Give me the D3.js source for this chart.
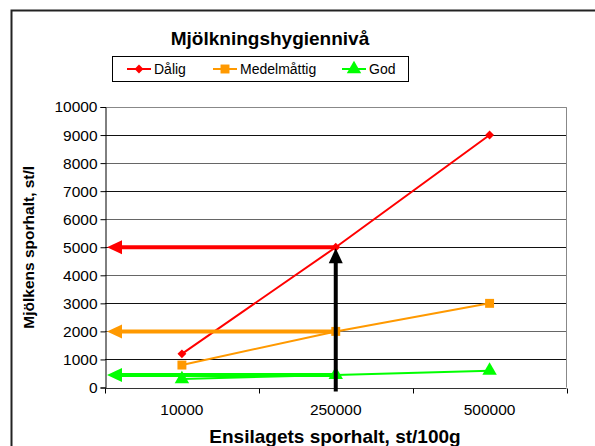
<!DOCTYPE html>
<html>
<head>
<meta charset="utf-8">
<script src="https://cdn.jsdelivr.net/npm/d3@7"></script>
<style>
  body { margin: 0; background: #fff; }
  svg { font-family: "Liberation Sans", Arial, sans-serif; }
</style>
</head>
<body>
<div id="chart"></div>
<script>
// Data___________________________________________
const categories = ["10000", "250000", "500000"];
const seriesNames = ["Dålig", "Medelmåttig", "God"];
const dalig = [1200, 5000, 9000];
const medel = [800, 2000, 3000];
const god = [300, 450, 600];
const yTicks = [0, 1000, 2000, 3000, 4000, 5000, 6000, 7000, 8000, 9000, 10000];
const arrowLevels = [5000, 2000, 450];   // horizontal reading arrows
const arrowCategory = "250000";         // where the vertical arrow stands

const colors = ["#ff0000", "#ff9900", "#00ff00"];
const series = [dalig, medel, god];

const width = 595, height = 446;
const pLeft = 105, pRight = 566.5, pTop = 107, pBottom = 387.5;

const svg = d3.select("#chart").append("svg")
    .attr("width", width)
    .attr("height", height);

// outer frame
svg.append("path")
    .attr("d", `M11.5,${height + 5} L11.5,10.5 L${width + 5},10.5`)
    .attr("fill", "none")
    .attr("stroke", "#222")
    .attr("stroke-width", 2);

// Scales_________________________________________
const x = d3.scaleBand().domain(categories).range([pLeft, pRight]);
const y = d3.scaleLinear().domain([0, 10000]).range([pBottom, pTop]);
const cx = c => x(c) + x.bandwidth() / 2;

// gridlines
svg.append("g").selectAll("line")
    .data(yTicks.slice(1))
    .enter().append("line")
    .attr("x1", pLeft).attr("x2", pRight)
    .attr("y1", d => Math.round(y(d)) + 0.5)
    .attr("y2", d => Math.round(y(d)) + 0.5)
    .attr("stroke", d => d % 2000 === 0 ? "#666" : "#111")
    .attr("stroke-width", 1);

// plot border (top + right)
svg.append("path")
    .attr("d", `M${pLeft},${pTop + 0.5} L${pRight},${pTop + 0.5} L${pRight},${pBottom}`)
    .attr("fill", "none")
    .attr("stroke", "#888");

// Axes___________________________________________
const yAxis = d3.axisLeft(y).tickValues(yTicks).tickSize(5).tickPadding(3)
    .tickFormat(d3.format("d"));
const yG = svg.append("g")
    .attr("transform", `translate(${pLeft + 0.5},0)`)
    .call(yAxis);
yG.select(".domain").attr("stroke", "#000");
yG.selectAll(".tick line").attr("stroke", "#000");
yG.selectAll("text").attr("font-size", 15.5).attr("fill", "#000")
    .attr("font-family", "Liberation Sans, Arial, sans-serif");

const xAxis = svg.append("g")
    .attr("transform", `translate(0,${Math.round(pBottom) + 0.5})`);
xAxis.append("line")
    .attr("x1", pLeft).attr("x2", pRight)
    .attr("stroke", "#333");
xAxis.selectAll(".xt")
    .data(categories.map(c => x(c)).concat([pRight]))
    .enter().append("line")
    .attr("x1", d => Math.round(d) + 0.5).attr("x2", d => Math.round(d) + 0.5)
    .attr("y1", 0).attr("y2", 5)
    .attr("stroke", "#000");
xAxis.selectAll("text")
    .data(categories)
    .enter().append("text")
    .attr("x", d => cx(d))
    .attr("y", 26)
    .attr("text-anchor", "middle")
    .attr("font-size", 15.5)
    .text(d => d);

// Series lines___________________________________
const line = d3.line().x((d, i) => cx(categories[i])).y(d => y(d));
series.forEach((s, k) => {
    svg.append("path")
        .attr("d", line(s))
        .attr("fill", "none")
        .attr("stroke", colors[k])
        .attr("stroke-width", 2);
});

// Reading arrows__________________________________
function arrowHead(tipX, tipY, dir, len, half, color) {
    let pts;
    if (dir === "left") pts = [[tipX, tipY], [tipX + len, tipY - half], [tipX + len, tipY + half]];
    else pts = [[tipX, tipY], [tipX - half, tipY + len], [tipX + half, tipY + len]];
    svg.append("path")
        .attr("d", "M" + pts.join("L") + "Z")
        .attr("fill", color);
}

arrowLevels.forEach((lv, k) => {
    const yy = y(lv);
    svg.append("line")
        .attr("x1", cx(arrowCategory)).attr("x2", pLeft + 14)
        .attr("y1", yy).attr("y2", yy)
        .attr("stroke", colors[k])
        .attr("stroke-width", 4);
    arrowHead(pLeft + 2, yy, "left", 15, 7, colors[k]);
});

// Markers_________________________________________
const markerSyms = [d3.symbolDiamond2, d3.symbolSquare, d3.symbolTriangle];
const markerSizes = [50, 80, 90];
series.forEach((s, k) => {
    svg.append("g").selectAll("path")
        .data(s)
        .enter().append("path")
        .attr("transform", (d, i) => `translate(${cx(categories[i])},${y(d)})`)
        .attr("d", d3.symbol().type(markerSyms[k]).size(markerSizes[k]))
        .attr("fill", colors[k]);
});

// black vertical arrow
const ax = cx(arrowCategory);
svg.append("line")
    .attr("x1", ax).attr("x2", ax)
    .attr("y1", pBottom + 4).attr("y2", y(arrowLevels[0]) + 14)
    .attr("stroke", "#000")
    .attr("stroke-width", 4);
arrowHead(ax, y(arrowLevels[0]) + 1, "up", 15, 7, "#000");

// Titles__________________________________________
svg.append("text")
    .attr("x", 270).attr("y", 45)
    .attr("text-anchor", "middle")
    .attr("font-size", 19)
    .attr("font-weight", "bold")
    .text("Mjölkningshygiennivå");

svg.append("text")
    .attr("transform", `translate(34,${(pTop + pBottom) / 2}) rotate(-90)`)
    .attr("text-anchor", "middle")
    .attr("font-size", 15.5)
    .attr("font-weight", "bold")
    .text("Mjölkens sporhalt, st/l");

svg.append("text")
    .attr("x", 335).attr("y", 443)
    .attr("text-anchor", "middle")
    .attr("font-size", 19)
    .attr("font-weight", "bold")
    .text("Ensilagets sporhalt, st/100g");

// Legend__________________________________________
const legend = svg.append("g");
legend.append("rect")
    .attr("x", 112.5).attr("y", 56.5)
    .attr("width", 296).attr("height", 25)
    .attr("fill", "#fff")
    .attr("stroke", "#000");

const legendX = [127, 213, 342];
seriesNames.forEach((name, k) => {
    const g = legend.append("g").attr("transform", `translate(${legendX[k]},69)`);
    g.append("line")
        .attr("x1", 0).attr("x2", 24)
        .attr("stroke", colors[k]).attr("stroke-width", 2);
    g.append("path")
        .attr("transform", "translate(12,0)")
        .attr("d", d3.symbol().type(markerSyms[k]).size(markerSizes[k]))
        .attr("fill", colors[k]);
    g.append("text")
        .attr("x", 27).attr("y", 5)
        .attr("font-size", 14)
        .text(name);
});
</script>
</body>
</html>
